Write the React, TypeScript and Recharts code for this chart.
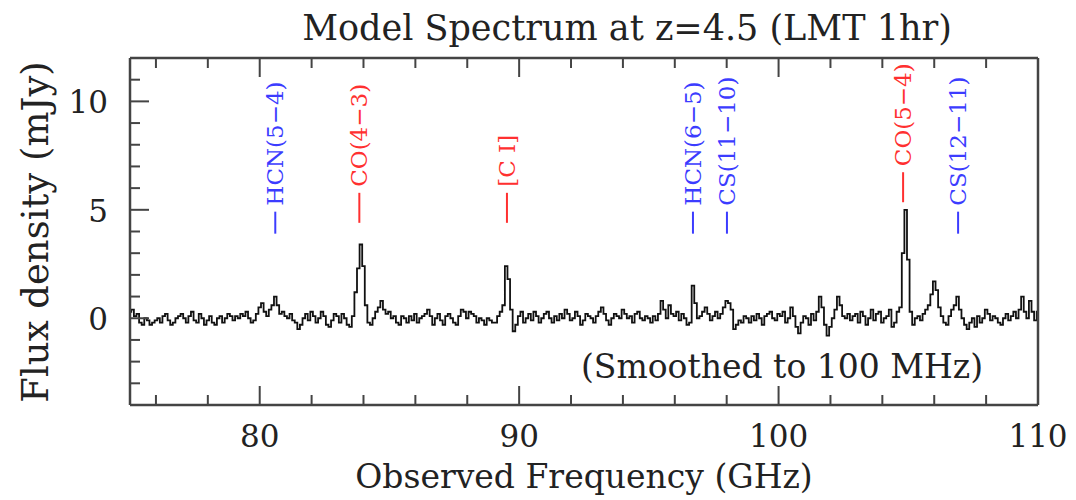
import React from 'react';
import { LineChart, Line, XAxis, YAxis, ReferenceDot } from 'recharts';

// smoothed spectrum, one value per 100 MHz channel from 75.0 to 110.0 GHz (mJy)
const flux = [
  0.3, 0.4, 0.1, 0.2, -0.2, -0.3, 0.0, -0.1, -0.3, -0.2, // 75
  -0.1, 0.0, -0.2, 0.1, 0.2, -0.1, -0.3, -0.2, 0.0, 0.1, // 76
  0.2, 0.0, -0.2, 0.1, 0.3, -0.1, -0.2, 0.2, 0.0, -0.3, // 77
  -0.1, 0.1, -0.2, -0.3, 0.0, 0.1, -0.2, 0.0, 0.2, 0.1, // 78
  -0.1, 0.1, 0.0, 0.2, 0.1, 0.3, 0.0, -0.2, -0.1, 0.2, // 79
  0.5, 0.7, 0.3, 0.1, 0.4, 0.6, 1.0, 0.6, 0.2, 0.3, // 80
  0.1, 0.0, 0.2, -0.1, -0.2, -0.5, -0.3, 0.0, 0.2, -0.1, // 81
  0.3, 0.1, -0.2, 0.0, 0.3, 0.1, -0.3, -0.4, -0.1, 0.2, // 82
  0.1, -0.2, 0.2, 0.0, -0.3, -0.4, 0.1, 1.2, 2.3, 3.4, // 83
  2.4, 0.6, -0.2, -0.3, 0.0, 0.3, 0.5, 0.8, 0.4, 0.2, // 84
  0.3, 0.0, 0.1, -0.2, -0.3, 0.1, 0.0, -0.2, 0.1, -0.1, // 85
  0.2, -0.2, 0.0, 0.1, 0.2, 0.4, 0.1, -0.3, 0.0, 0.2, // 86
  -0.1, -0.3, 0.1, 0.2, 0.0, -0.2, -0.3, 0.1, 0.4, 0.3, // 87
  0.0, 0.3, 0.2, 0.1, -0.2, 0.0, -0.1, -0.3, 0.0, -0.1, // 88
  -0.2, -0.2, 0.1, 0.3, 0.6, 2.4, 1.8, 0.4, -0.6, -0.3, // 89
  0.1, 0.3, -0.2, 0.0, 0.2, -0.1, 0.3, 0.1, -0.2, 0.0, // 90
  0.2, 0.3, 0.0, -0.2, 0.1, -0.1, 0.2, 0.0, 0.4, 0.2, // 91
  -0.1, 0.0, 0.3, 0.1, -0.3, -0.1, 0.2, 0.1, 0.0, -0.2, // 92
  0.1, 0.3, 0.5, 0.2, -0.1, -0.3, 0.0, 0.2, 0.1, 0.0, // 93
  0.4, 0.2, 0.0, 0.1, -0.2, 0.2, 0.3, 0.0, -0.1, 0.1, // 94
  0.0, -0.2, 0.1, -0.1, 0.2, 0.8, 0.4, 0.0, 0.6, 0.2, // 95
  0.1, 0.3, -0.1, 0.2, 0.0, -0.3, -0.2, 1.5, 0.7, 0.0, // 96
  0.1, 0.3, 0.5, 0.2, -0.1, 0.1, 0.3, 0.0, 0.2, 0.5, // 97
  0.8, 0.7, 0.4, -0.5, -0.3, -0.1, -0.2, 0.1, 0.0, -0.2, // 98
  0.1, -0.1, 0.2, 0.0, -0.3, 0.1, 0.2, 0.3, 0.0, -0.1, // 99
  0.2, 0.1, 0.3, -0.2, 0.0, 0.5, 0.1, -0.4, -0.7, -0.2, // 100
  0.1, 0.0, -0.3, 0.2, -0.1, 0.3, 1.0, 0.5, -0.3, -0.8, // 101
  -0.4, 0.0, 0.4, 1.0, 0.6, 0.1, 0.0, 0.2, -0.1, 0.1, // 102
  0.2, -0.2, 0.3, 0.1, -0.3, 0.0, 0.4, -0.1, 0.2, 0.3, // 103
  -0.2, 0.0, 0.1, 0.4, -0.4, -0.2, 0.3, 0.5, 3.0, 5.0, // 104
  2.7, 0.3, -0.3, 0.0, 0.1, -0.1, 0.2, 0.4, 0.6, 1.1, // 105
  1.7, 1.3, 0.5, 0.1, -0.2, -0.3, 0.1, 0.4, 0.6, 1.0, // 106
  0.4, 0.0, -0.3, -0.5, -0.2, 0.0, -0.4, 0.1, -0.2, 0.0, // 107
  0.4, 0.2, -0.1, 0.1, 0.0, -0.2, -0.3, 0.0, 0.2, -0.1, // 108
  0.1, 0.3, 0.0, 0.4, 1.0, 0.3, 0.0, 0.8, 0.3, -0.1, // 109
  0.3, // 110
];
const spectrum = flux.map((v, i) => ({ freq: Math.round(750 + i) / 10, flux: v }));

const xTicks = [76, 78, 80, 82, 84, 86, 88, 90, 92, 94, 96, 98, 100, 102, 104, 106, 108, 110];
const xMajor = [80, 90, 100, 110];
const yTicks = [-3, -2, -1, 0, 1, 2, 3, 4, 5, 6, 7, 8, 9, 10, 11];
const yMajor = [0, 5, 10];

// line identifications: name, redshifted frequency, label base (mJy)
const lineNames = ['HCN(5\u22124)', 'CO(4\u22123)', '[C I]', 'HCN(6\u22125)', 'CS(11\u221210)', 'CO(5\u22124)', 'CS(12\u221211)'];
const lineFreqs = [80.6, 83.84, 89.53, 96.7, 98.01, 104.8, 106.92];
const lineBases = [3.9, 4.4, 4.4, 3.9, 3.9, 5.35, 3.9];
const lineIsCO = [false, true, true, false, false, true, false];

const FRAME = '#444';
const FONT = '"DejaVu Serif", serif';
const INK = '#222';

const BottomTick = ({ x, y, payload }: any) => {
  const major = xMajor.includes(payload.value);
  return (
    <g>
      <line x1={x} x2={x} y1={y} y2={y - (major ? 19 : 10)} stroke={FRAME} strokeWidth={2} />
      {major && (
        <text x={x} y={y + 42} textAnchor="middle" fontFamily={FONT} fontSize={31} fill={INK}>
          {payload.value}
        </text>
      )}
    </g>
  );
};

const TopTick = ({ x, y, payload }: any) => {
  const major = xMajor.includes(payload.value);
  return <line x1={x} x2={x} y1={y} y2={y + (major ? 19 : 10)} stroke={FRAME} strokeWidth={2} />;
};

const LeftTick = ({ x, y, payload }: any) => {
  const major = yMajor.includes(payload.value);
  return (
    <g>
      <line x1={x} x2={x + (major ? 19 : 10)} y1={y} y2={y} stroke={FRAME} strokeWidth={2} />
      {major && (
        <text x={x - 22} y={y + 12} textAnchor="end" fontFamily={FONT} fontSize={31} fill={INK}>
          {payload.value}
        </text>
      )}
    </g>
  );
};

const RightTick = ({ x, y, payload }: any) => {
  const major = yMajor.includes(payload.value);
  return <line x1={x} x2={x - (major ? 19 : 10)} y1={y} y2={y} stroke={FRAME} strokeWidth={2} />;
};

const LineMark = ({ cx, cy, name, co }: any) => {
  const color = co ? '#ff3030' : '#3c3cff';
  const dash = co ? 30 : 22;
  return (
    <g>
      <line x1={cx} x2={cx} y1={cy} y2={cy - dash} stroke={color} strokeWidth={2} />
      <text
        transform={`translate(${cx},${cy - dash - 6}) rotate(-90)`}
        textAnchor="start"
        dominantBaseline="central"
        fontFamily={FONT}
        fontSize={23}
        fill={color}
      >
        {name}
      </text>
    </g>
  );
};

export default function App() {
  return (
    <LineChart
      width={1068}
      height={492}
      data={spectrum}
      margin={{ top: 49, right: 37, bottom: 94, left: 121 }}
    >
      <XAxis
        xAxisId="b"
        dataKey="freq"
        type="number"
        domain={[75, 110]}
        ticks={xTicks}
        interval={0}
        height={1}
        tickSize={0}
        tickMargin={0}
        tick={<BottomTick />}
        axisLine={{ stroke: FRAME, strokeWidth: 2.5 }}
      />
      <XAxis
        xAxisId="t"
        orientation="top"
        dataKey="freq"
        type="number"
        domain={[75, 110]}
        ticks={xTicks}
        interval={0}
        height={1}
        tickSize={0}
        tickMargin={0}
        tick={<TopTick />}
        axisLine={{ stroke: FRAME, strokeWidth: 2.5 }}
      />
      <YAxis
        yAxisId="l"
        type="number"
        domain={[-4, 12]}
        ticks={yTicks}
        interval={0}
        width={1}
        tickSize={0}
        tickMargin={0}
        tick={<LeftTick />}
        axisLine={{ stroke: FRAME, strokeWidth: 2.5 }}
      />
      <YAxis
        yAxisId="r"
        orientation="right"
        type="number"
        domain={[-4, 12]}
        ticks={yTicks}
        interval={0}
        width={1}
        tickSize={0}
        tickMargin={0}
        tick={<RightTick />}
        axisLine={{ stroke: FRAME, strokeWidth: 2.5 }}
      />
      <Line
        xAxisId="b"
        yAxisId="l"
        type="step"
        dataKey="flux"
        stroke="#111"
        strokeWidth={1.8}
        dot={false}
        isAnimationActive={false}
      />
      {lineNames.map((name, i) => (
        <ReferenceDot
          key={name}
          xAxisId="b"
          yAxisId="l"
          x={lineFreqs[i]}
          y={lineBases[i]}
          r={0}
          shape={(p: any) => <LineMark cx={p.cx} cy={p.cy} name={name} co={lineIsCO[i]} />}
        />
      ))}
      <text x={619} y={32} textAnchor="middle" fontFamily={FONT} fontSize={35} fill={INK}>
        Model Spectrum at z=4.5 (LMT 1hr)
      </text>
      <text x={576} y={480} textAnchor="middle" fontFamily={FONT} fontSize={33} fill={INK}>
        Observed Frequency (GHz)
      </text>
      <text
        transform="translate(40,224) rotate(-90)"
        textAnchor="middle"
        fontFamily={FONT}
        fontSize={37}
        fill={INK}
      >
        Flux density (mJy)
      </text>
      <text x={774} y={370} textAnchor="middle" fontFamily={FONT} fontSize={33} fill={INK}>
        (Smoothed to 100 MHz)
      </text>
    </LineChart>
  );
}
